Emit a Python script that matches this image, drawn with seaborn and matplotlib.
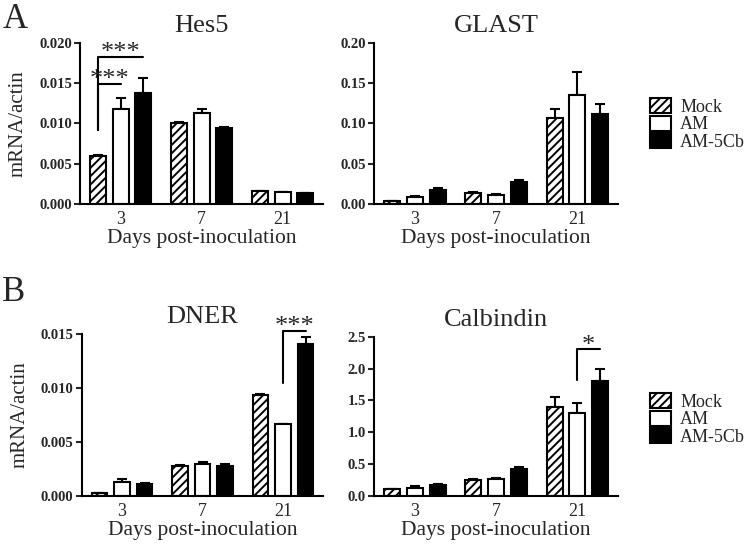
import numpy as np
import pandas as pd
import matplotlib
matplotlib.use('Agg')
import matplotlib.pyplot as plt
import seaborn as sns

sns.set_style('white')
plt.rcParams['font.family'] = ['Liberation Serif', 'DejaVu Serif']
plt.rcParams['hatch.linewidth'] = 1.4

days = ['3', '7', '21']
groups = ['Mock', 'AM', 'AM-5Cb']

# Hes5 (days 3, 7, 21)
hes5_mock = [0.0059, 0.0101, 0.00155]
hes5_am = [0.0118, 0.0113, 0.00148]
hes5_am5cb = [0.0138, 0.0094, 0.0013]
hes5_mock_err = [0.0002, 0.0001, 0.00003]
hes5_am_err = [0.0014, 0.0005, 0.00003]
hes5_am5cb_err = [0.0018, 0.0002, 0.00003]

# GLAST
glast_mock = [0.0033, 0.0137, 0.1064]
glast_am = [0.0087, 0.0116, 0.1354]
glast_am5cb = [0.0178, 0.0269, 0.1122]
glast_mock_err = [0.0003, 0.0008, 0.0112]
glast_am_err = [0.0012, 0.0004, 0.0286]
glast_am5cb_err = [0.0017, 0.0025, 0.0120]

# DNER
dner_mock = [0.00025, 0.00278, 0.00937]
dner_am = [0.00133, 0.00294, 0.00668]
dner_am5cb = [0.00108, 0.0028, 0.0141]
dner_mock_err = [0.00003, 0.00012, 0.00006]
dner_am_err = [0.00025, 0.00016, 0.00003]
dner_am5cb_err = [0.00012, 0.00014, 0.0006]

# Calbindin
calb_mock = [0.105, 0.25, 1.40]
calb_am = [0.13, 0.26, 1.30]
calb_am5cb = [0.17, 0.42, 1.80]
calb_mock_err = [0.01, 0.02, 0.15]
calb_am_err = [0.02, 0.02, 0.16]
calb_am5cb_err = [0.01, 0.04, 0.19]

# significance brackets: (from group, to group, day index, low y, high y, label)
hes5_sig = [('Mock', 'AM-5Cb', 0, 0.0092, 0.0183, '***'),
            ('Mock', 'AM', 0, 0.0092, 0.0149, '***')]
dner_sig = [('AM', 'AM-5Cb', 2, 0.0105, 0.0153, '***')]
calb_sig = [('AM', 'AM-5Cb', 2, 1.82, 2.30, '*')]


def draw_panel(ax, title, means, errs, ymax, ystep, fmt, sig):
    df = pd.DataFrame({
        'day': days * 3,
        'group': [g for g in groups for _ in days],
        'value': [v for m in means for v in m],
    })
    sns.barplot(data=df, x='day', y='value', hue='group', order=days,
                hue_order=groups, palette=['white', 'white', 'black'],
                saturation=1, edgecolor='black', linewidth=1.5,
                width=0.84, gap=0.3, errorbar=None, legend=False, ax=ax)
    for bar in ax.containers[0]:
        bar.set_hatch('////')

    centers = {}
    for g, cont, err in zip(groups, ax.containers, errs):
        xs = [b.get_x() + b.get_width() / 2 for b in cont]
        ys = [b.get_height() for b in cont]
        centers[g] = xs
        ax.errorbar(xs, ys, yerr=[np.zeros(len(err)), err], fmt='none',
                    ecolor='black', elinewidth=1.5, capsize=3.5,
                    capthick=1.5, zorder=0.5)

    for g1, g2, d, ylo, yhi, lab in sig:
        x1 = centers[g1][d]
        x2 = centers[g2][d]
        ax.plot([x1, x1, x2], [ylo, yhi, yhi], color='black', lw=1.5,
                clip_on=False)
        ax.annotate(lab, xy=((x1 + x2) / 2, yhi), xytext=(0, -1.5),
                    textcoords='offset points', ha='center', va='baseline',
                    fontsize=19, annotation_clip=False)

    ax.set_ylim(0, ymax)
    ax.set_xlim(-0.5, 2.5)
    ticks = np.arange(0, ymax + ystep / 2, ystep)
    ax.set_yticks(ticks)
    ax.set_yticklabels([fmt % t for t in ticks], fontweight='bold', fontsize=10.5)
    ax.tick_params(axis='y', length=4, width=1.5, pad=2, left=True)
    ax.tick_params(axis='x', length=0, pad=5, labelsize=13)
    for s in ['top', 'right']:
        ax.spines[s].set_visible(False)
    for s in ['left', 'bottom']:
        ax.spines[s].set_linewidth(1.5)
        ax.spines[s].set_color('black')
    ax.set_title(title, fontsize=19, pad=8)
    ax.set_xlabel('Days post-inoculation', fontsize=15.5, labelpad=1)
    ax.set_ylabel('')


fig = plt.figure(figsize=(7.5, 5.48), dpi=100)

ax1 = fig.add_axes([0.107, 0.628, 0.324, 0.2935])
ax2 = fig.add_axes([0.499, 0.628, 0.325, 0.2935])
ax3 = fig.add_axes([0.109, 0.095, 0.322, 0.2955])
ax4 = fig.add_axes([0.499, 0.095, 0.325, 0.2905])

draw_panel(ax1, 'Hes5', [hes5_mock, hes5_am, hes5_am5cb],
           [hes5_mock_err, hes5_am_err, hes5_am5cb_err], 0.020, 0.005, '%.3f', hes5_sig)
draw_panel(ax2, 'GLAST', [glast_mock, glast_am, glast_am5cb],
           [glast_mock_err, glast_am_err, glast_am5cb_err], 0.20, 0.05, '%.2f', [])
draw_panel(ax3, 'DNER', [dner_mock, dner_am, dner_am5cb],
           [dner_mock_err, dner_am_err, dner_am5cb_err], 0.015, 0.005, '%.3f', dner_sig)
draw_panel(ax4, 'Calbindin', [calb_mock, calb_am, calb_am5cb],
           [calb_mock_err, calb_am_err, calb_am5cb_err], 2.5, 0.5, '%.1f', calb_sig)

ax1.set_ylabel('mRNA/actin', fontsize=15, labelpad=8)
ax3.set_ylabel('mRNA/actin', fontsize=15, labelpad=8)

for ax, top in [(ax2, 1 - 98 / 548), (ax4, 1 - 393 / 548)]:
    fig.legend(handles=[ax.containers[i][0] for i in range(3)], labels=groups,
               loc='upper left', bbox_to_anchor=(0.866, top), frameon=False,
               fontsize=13, handlelength=1.2, handleheight=0.9,
               handletextpad=0.5, labelspacing=0.0, borderpad=0,
               borderaxespad=0)

fig.text(0.003, 0.995, 'A', fontsize=25, va='top', ha='left')
fig.text(0.003, 0.497, 'B', fontsize=25, va='top', ha='left')

fig.savefig('out.png', dpi=100)
